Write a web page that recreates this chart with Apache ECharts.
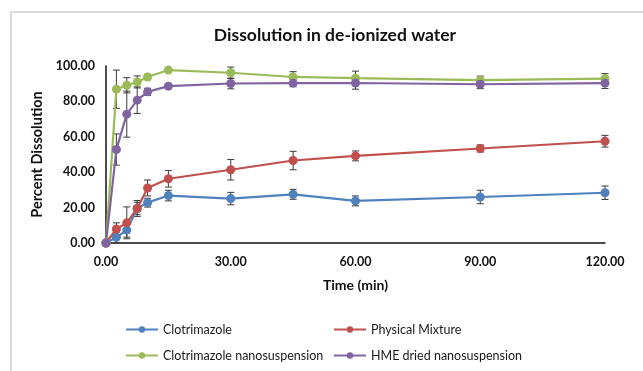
<!DOCTYPE html>
<html>
<head>
<meta charset="utf-8">
<script src="https://cdn.jsdelivr.net/npm/echarts@6/dist/echarts.min.js"></script>
<style>
  html, body { margin: 0; padding: 0; background: #ffffff; }
  #frame { position: absolute; left: 10px; top: 11px; width: 640px; height: 370px; border-left: 2px solid #dcdcdc; border-top: 2px solid #dcdcdc; box-sizing: border-box; }
  #chart { width: 643px; height: 371px; position: relative; }
</style>
</head>
<body>
<div id="frame"></div>
<div id="chart"></div>
<script>
// Sampling times (min)
const times = [0, 2.5, 5, 7.5, 10, 15, 30, 45, 60, 90, 120];
const xTicks = [0, 30, 60, 90, 120];
const yTicks = [0, 20, 40, 60, 80, 100];

// Mean percent dissolved per formulation
const clotrimazole   = [0, 3.2, 7.3, 19.5, 22.8, 26.8, 25.1, 27.5, 23.8, 26.0, 28.4];
const physicalMix    = [0, 7.9, 11.4, 19.5, 31.1, 36.3, 41.4, 46.6, 49.2, 53.4, 57.5];
const nanosuspension = [0, 86.9, 89.1, 91.0, 93.8, 97.7, 96.2, 93.8, 93.1, 92.0, 92.9];
const hmeDried       = [0, 52.8, 72.8, 80.7, 85.4, 88.6, 90.1, 90.3, 90.4, 89.7, 90.3];

// Standard deviations
const clotrimazoleSd   = [0, 3.0, 4.0, 3.5, 2.5, 3.0, 3.5, 2.8, 2.8, 3.8, 3.8];
const physicalMixSd    = [0, 3.5, 9.0, 4.5, 4.5, 4.7, 5.8, 5.2, 2.8, 2.0, 3.3];
const nanosuspensionSd = [0, 10.8, 4.3, 3.4, 1.5, 1.0, 3.2, 3.0, 4.0, 2.3, 2.8];
const hmeDriedSd       = [0, 8.8, 13.0, 7.5, 2.0, 1.5, 3.0, 2.0, 3.5, 2.5, 3.0];

const names = ['Clotrimazole', 'Physical Mixture', 'Clotrimazole nanosuspension', 'HME dried nanosuspension'];
const colors = ['#4f81bd', '#c0504d', '#9bbb59', '#8064a2'];
const means = [clotrimazole, physicalMix, nanosuspension, hmeDried];
const sds = [clotrimazoleSd, physicalMixSd, nanosuspensionSd, hmeDriedSd];

const font = 'Lato, "Open Sans", sans-serif';

function errorSeries(mean, sd) {
  const rows = times.map((t, i) => [t, mean[i] - sd[i], mean[i] + sd[i]]);
  return {
    type: 'custom',
    silent: true,
    z: 3,
    data: rows,
    renderItem: function (params, api) {
      const x = api.value(0);
      const lo = api.coord([x, api.value(1)]);
      const hi = api.coord([x, api.value(2)]);
      const w = 3.5;
      const style = { stroke: '#3a3a3a', lineWidth: 1 };
      return {
        type: 'group',
        children: [
          { type: 'line', shape: { x1: lo[0], y1: lo[1], x2: hi[0], y2: hi[1] }, style: style },
          { type: 'line', shape: { x1: lo[0] - w, y1: lo[1], x2: lo[0] + w, y2: lo[1] }, style: style },
          { type: 'line', shape: { x1: hi[0] - w, y1: hi[1], x2: hi[0] + w, y2: hi[1] }, style: style }
        ]
      };
    }
  };
}

const series = [];
means.forEach((m, k) => {
  series.push(errorSeries(m, sds[k]));
});
means.forEach((m, k) => {
  series.push({
    name: names[k],
    type: 'line',
    z: 4,
    data: times.map((t, i) => [t, m[i]]),
    symbol: 'circle',
    symbolSize: 9,
    lineStyle: { color: colors[k], width: 2.2 },
    itemStyle: { color: colors[k] },
    animation: false
  });
});

const legendText = { fontFamily: font, fontSize: 12.5, color: '#1a1a1a' };

const option = {
  animation: false,
  title: {
    text: 'Dissolution in de-ionized water',
    left: 330,
    top: 21,
    textAlign: 'center',
    textStyle: { fontFamily: font, fontSize: 17.5, fontWeight: 'bold', color: '#111' }
  },
  legend: [
    {
      data: [names[0], names[2]],
      orient: 'vertical',
      left: 125,
      top: 323,
      padding: 0,
      itemWidth: 32,
      itemHeight: 8,
      itemGap: 13,
      textStyle: legendText
    },
    {
      data: [names[1], names[3]],
      orient: 'vertical',
      left: 333,
      top: 323,
      padding: 0,
      itemWidth: 32,
      itemHeight: 8,
      itemGap: 13,
      textStyle: legendText
    }
  ],
  grid: { left: 106, right: 38, top: 66, bottom: 128 },
  xAxis: {
    type: 'value',
    min: 0,
    max: 120,
    interval: 30,
    name: 'Time (min)',
    nameLocation: 'middle',
    nameGap: 35,
    nameTextStyle: { fontFamily: font, fontSize: 14, fontWeight: 'bold', color: '#111' },
    axisLine: { lineStyle: { color: '#111', width: 1.5 } },
    axisTick: { show: false },
    splitLine: { show: false },
    axisLabel: {
      fontFamily: font, fontSize: 12.5, fontWeight: 'bold', color: '#111', margin: 12,
      formatter: v => xTicks.includes(v) ? v.toFixed(2) : ''
    }
  },
  yAxis: {
    type: 'value',
    min: 0,
    max: 100,
    interval: 20,
    name: 'Percent Dissolution',
    nameLocation: 'middle',
    nameGap: 57,
    nameTextStyle: { fontFamily: font, fontSize: 14.5, fontWeight: 'bold', color: '#111' },
    axisLine: { show: true, lineStyle: { color: '#111', width: 1.5 } },
    axisTick: { show: false },
    splitLine: { show: false },
    axisLabel: {
      fontFamily: font, fontSize: 12.5, fontWeight: 'bold', color: '#111', margin: 11,
      formatter: v => yTicks.includes(v) ? v.toFixed(2) : ''
    }
  },
  series: series
};

const chart = echarts.init(document.getElementById('chart'), null, { renderer: 'canvas' });
chart.setOption(option);
</script>
</body>
</html>
